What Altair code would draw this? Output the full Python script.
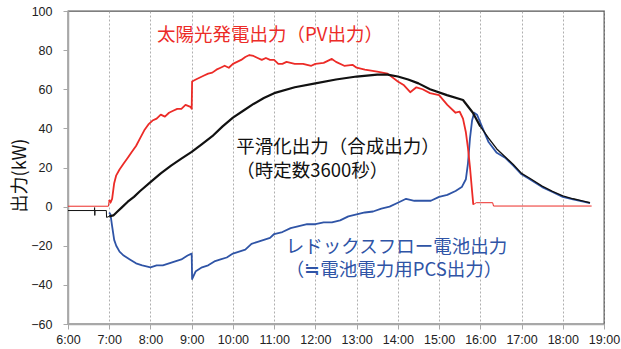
import altair as alt
import pandas as pd

# Time of day in decimal hours, output in kW
pv_hours = [6.0, 6.98, 7.0, 7.03, 7.07, 7.12, 7.17, 7.25, 7.35, 7.45, 7.55, 7.65, 7.75, 7.85,
            7.95, 8.05, 8.15, 8.25, 8.35, 8.45, 8.55, 8.65, 8.75, 8.85, 8.97, 9.0, 9.01, 9.1,
            9.2, 9.3, 9.4, 9.5, 9.6, 9.7, 9.8, 9.9, 10.0, 10.1, 10.2, 10.3, 10.4, 10.5, 10.6,
            10.7, 10.8, 10.9, 11.0, 11.1, 11.2, 11.3, 11.5, 11.7, 11.9, 12.0, 12.2, 12.4, 12.5,
            12.7, 12.9, 13.0, 13.2, 13.5, 13.75, 14.0, 14.15, 14.3, 14.45, 14.6, 14.78, 15.0,
            15.2, 15.4, 15.5, 15.58, 15.65, 15.7, 15.75, 15.8, 15.83, 15.9, 16.0, 16.3, 16.32,
            18.7]
pv_kw = [0.2, 0.2, 3.5, 2.0, 4.0, 12.0, 16.0, 19.0, 22.0, 25.0, 28.0, 31.0, 35.0, 39.0,
         42.0, 44.0, 45.0, 47.0, 46.0, 48.0, 49.0, 50.0, 50.0, 52.0, 51.0, 50.0, 64.0, 65.0,
         66.0, 67.0, 68.0, 68.5, 70.0, 71.0, 72.0, 71.0, 73.0, 74.0, 75.0, 76.5, 77.5, 77.0, 76.0,
         75.0, 76.0, 75.0, 75.0, 73.0, 73.0, 74.0, 73.0, 73.0, 72.0, 73.0, 73.5, 75.5, 74.0,
         72.0, 72.5, 71.0, 70.0, 69.0, 68.0, 64.0, 62.0, 58.5, 61.0, 60.0, 58.0, 57.0,
         52.0, 48.0, 48.5, 45.0, 38.0, 30.0, 20.0, 8.0, 1.0, 2.0, 2.0, 2.0, 0.3,
         0.3]

smooth_hours = [6.0, 6.64, 6.645, 6.65, 6.655, 6.93, 6.935, 7.0, 7.1, 7.2, 7.3, 7.45, 7.6,
                7.75, 8.0, 8.25, 8.5, 8.75, 9.0, 9.25, 9.5, 9.75, 10.0, 10.25, 10.5, 10.75,
                11.0, 11.5, 12.0, 12.5, 13.0, 13.5, 13.75, 14.0, 14.25, 14.5, 14.78, 15.19,
                15.58, 15.82, 16.0, 16.2, 16.4, 16.6, 16.8, 17.0, 17.2, 17.5, 17.75, 18.0,
                18.25, 18.5, 18.66]
smooth_kw = [-2.0, -2.0, -0.5, -4.5, -2.0, -2.0, -5.5, -5.0, -4.5, -2.5, -0.5, 2.5, 5.0,
             8.0, 12.5, 17.0, 21.0, 24.5, 28.0, 32.0, 36.0, 41.0, 45.5, 49.0, 52.5, 55.5,
             58.0, 61.0, 63.0, 65.0, 66.5, 67.5, 67.5, 66.5, 65.0, 63.0, 60.0, 57.0,
             54.5, 48.0, 41.0, 35.0, 29.5, 25.5, 21.5, 17.0, 14.5, 10.5, 7.8, 5.5,
             4.0, 2.8, 2.0]

battery_hours = [7.0, 7.03, 7.07, 7.12, 7.17, 7.25, 7.35, 7.5, 7.65, 7.8, 8.0, 8.15, 8.3,
                 8.45, 8.6, 8.75, 8.9, 9.0, 9.01, 9.1, 9.25, 9.4, 9.55, 9.7, 9.85, 10.0,
                 10.15, 10.3, 10.45, 10.6, 10.75, 10.9, 11.0, 11.2, 11.4, 11.6, 11.8, 12.0,
                 12.2, 12.4, 12.6, 12.8, 13.0, 13.2, 13.4, 13.6, 13.8, 14.0, 14.2, 14.4, 14.6,
                 14.8, 15.0, 15.2, 15.4, 15.55, 15.65, 15.7, 15.75, 15.8, 15.85, 15.92, 16.0,
                 16.1, 16.2, 16.4, 16.6, 16.8, 17.0, 17.2, 17.5, 17.75, 18.0, 18.25, 18.5,
                 18.66]
battery_kw = [-3.0, -4.0, -10.0, -17.0, -20.0, -23.0, -25.0, -27.0, -29.0, -30.0, -31.0, -30.0,
              -30.0, -29.0, -28.0, -27.0, -25.0, -24.0, -37.0, -33.0, -31.0, -30.0, -28.0,
              -27.0, -26.0, -24.0, -23.0, -22.0, -19.0, -18.0, -17.0, -16.0, -14.0, -13.0,
              -11.0, -10.0, -9.0, -9.0, -8.0, -8.0, -7.0, -5.0, -4.0, -3.0, -2.5, -1.0, 0.0,
              2.0, 4.0, 3.0, 3.0, 3.0, 5.0, 6.0, 8.0, 10.0, 14.0, 22.0, 35.0, 44.0, 48.0,
              47.0, 43.0, 38.0, 33.0, 27.5, 25.0, 21.0, 16.5, 14.0, 10.0, 7.5, 5.0, 3.7,
              2.6, 1.8]

# Axis tick positions
hour_ticks = list(range(6, 20))
kw_ticks = list(range(-60, 101, 20))

# (start hour, end hour, stroke class) pieces of each trace
pv_pieces = [(6.0, 7.0, "fine"), (7.0, 15.83, "band"), (15.83, 18.7, "fine")]
smooth_pieces = [(6.0, 7.0, "fine"), (7.0, 16.0, "heavy"), (16.0, 18.7, "mid")]
battery_pieces = [(7.0, 18.7, "band")]

RED = "#ec2b27"
BLUE = "#2f54a6"
BLACK = "#111111"
CJK = "Noto Sans CJK JP"


def pieces_frame(hours, values, pieces):
    rows = []
    for i, (a, b, w) in enumerate(pieces):
        for h, v in zip(hours, values):
            if a <= h <= b:
                rows.append({"hour": h, "kw": v, "piece": i, "weight": w})
    return pd.DataFrame(rows)


x_scale = alt.Scale(domain=[6, 19], nice=False, zero=False)
y_scale = alt.Scale(domain=[-60, 100], nice=False)
width_scale = alt.Scale(domain=["fine", "mid", "band", "heavy"], range=[1.0, 2.2, 2.5, 3.6])

x_enc = alt.X("hour:Q", scale=x_scale,
              axis=alt.Axis(values=hour_ticks, labelExpr="datum.value + ':00'",
                            title=None, grid=True))
y_enc = alt.Y("kw:Q", scale=y_scale, axis=alt.Axis(values=kw_ticks, title="出力(kW)"))


def trace(df, color):
    return alt.Chart(df).mark_line(color=color, strokeJoin="round", strokeCap="butt").encode(
        x=x_enc,
        y=y_enc,
        detail="piece:N",
        order="hour:Q",
        strokeWidth=alt.StrokeWidth("weight:N", scale=width_scale, legend=None),
    )


battery_line = trace(pieces_frame(battery_hours, battery_kw, battery_pieces), BLUE)
pv_line = trace(pieces_frame(pv_hours, pv_kw, pv_pieces), RED)
smooth_line = trace(pieces_frame(smooth_hours, smooth_kw, smooth_pieces), BLACK)

# Annotations placed in data coordinates
label_text = ["太陽光発電出力（PV出力）", "平滑化出力（合成出力）", "（時定数3600秒）",
              "レドックスフロー電池出力", "（≒電池電力用PCS出力）"]
label_hour = [8.16, 10.08, 10.08, 11.28, 11.28]
label_kw = [87.9, 30.3, 18.3, -20.5, -32.5]
label_color = [RED, BLACK, BLACK, BLUE, BLUE]

labels = alt.Chart(pd.DataFrame({
    "hour": label_hour, "kw": label_kw, "text": label_text, "tc": label_color,
})).mark_text(align="left", baseline="middle", font=CJK, fontSize=18.5).encode(
    x=x_enc,
    y=y_enc,
    text="text:N",
    color=alt.Color("tc:N", scale=None),
)

chart = alt.layer(battery_line, pv_line, smooth_line, labels).properties(
    width=536, height=313,
    autosize=alt.AutoSizeParams(type="none"),
    padding={"left": 68, "top": 11, "right": 17, "bottom": 25},
    background="white",
).configure_view(
    stroke="#555555", strokeWidth=1.3,
).configure_axis(
    labelFont="Liberation Sans", labelFontSize=12.5, labelColor="#222222",
    labelOverlap=False, labelFlush=False, labelBound=False,
    domainColor="#a8a8a8", domainWidth=1.5, tickColor="#a8a8a8", tickSize=5,
    gridColor="#9a9a9a", gridDash=[2, 2], gridWidth=0.8,
).configure_axisX(
    labelPadding=4,
).configure_axisY(
    grid=False, labelPadding=11,
    titleFont=CJK, titleFontSize=18, titleFontWeight="normal", titleColor="#111111",
    titleX=-48, titleY=164, titleAngle=270, titleAlign="center", titleBaseline="middle",
)

chart.save("out.html", embed_options={"renderer": "svg", "actions": False})
